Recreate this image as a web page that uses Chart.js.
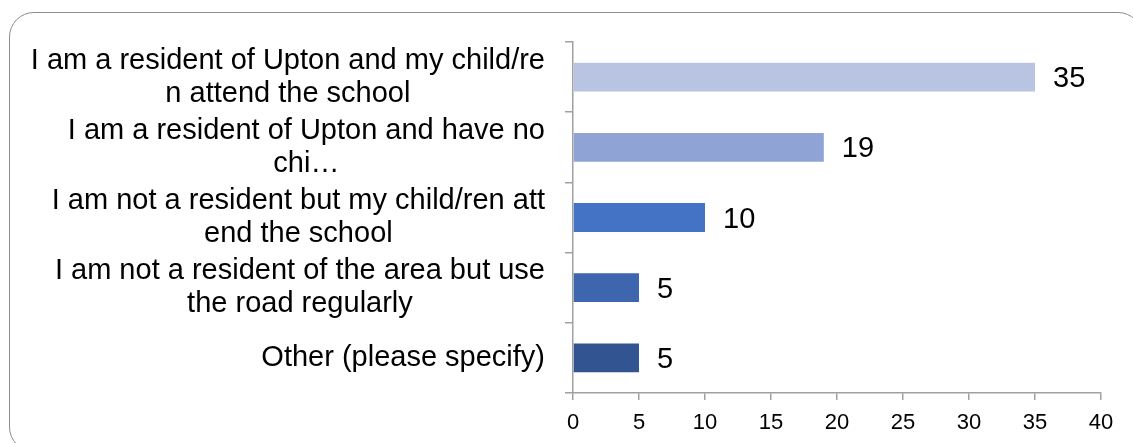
<!DOCTYPE html>
<html>
<head>
<meta charset="utf-8">
<script src="https://cdn.jsdelivr.net/npm/chart.js@4/dist/chart.umd.min.js"></script>
<style>
    html, body { margin: 0; padding: 0; background: #fff; }
    body { width: 1133px; height: 443px; position: relative; overflow: hidden; }
    .frame {
        position: absolute; left: 9px; top: 12px;
        width: 1134px; height: 440px;
        border: 1.5px solid #8c8c8c; border-radius: 25px;
        box-sizing: border-box;
    }
    .chart-box { position: absolute; left: 0; top: 0; width: 1133px; height: 443px; }
</style>
</head>
<body>
<div class="frame"></div>
<div class="chart-box"><canvas id="chart"></canvas></div>
<script>
// survey answers, each label already split into the lines it is shown on
const categories = [
    ['I am a resident of Upton and my child/re', 'n attend the school'],
    ['I am a resident of Upton and have no', 'chi…'],
    ['I am not a resident but my child/ren att', 'end the school'],
    ['I am not a resident of the area but use', 'the road regularly'],
    ['Other (please specify)']
];
const responses = [35, 19, 10, 5, 5];
const barColors = ['#b9c3e2', '#8fa3d4', '#4472c4', '#3d66ae', '#325491'];
const xTicks = [0, 5, 10, 15, 20, 25, 30, 35, 40];

const fontFamily = "'Liberation Sans', Arial, sans-serif";
const axisColor = '#a0a0a0';

// category names: each wrapped label is centred on its own widest line,
// and the block sits flush against the axis
const categoryLabels = {
    id: 'categoryLabels',
    afterDraw(chart) {
        const ctx = chart.ctx;
        const scale = chart.scales.y;
        const right = scale.right - 8 - 20;
        const lineGap = 33;
        ctx.save();
        ctx.font = '29px ' + fontFamily;
        ctx.fillStyle = '#000';
        ctx.textAlign = 'center';
        ctx.textBaseline = 'middle';
        categories.forEach((lines, i) => {
            const y = scale.getPixelForTick(i);
            const widest = Math.max(...lines.map(l => ctx.measureText(l).width));
            const cx = right - widest / 2;
            const top = y - (lines.length - 1) * lineGap / 2;
            lines.forEach((line, j) => ctx.fillText(line, cx, top + j * lineGap));
        });
        ctx.restore();
    }
};

// writes the value just to the right of each bar
const valueLabels = {
    id: 'valueLabels',
    afterDatasetsDraw(chart) {
        const ctx = chart.ctx;
        const meta = chart.getDatasetMeta(0);
        ctx.save();
        ctx.font = '29px ' + fontFamily;
        ctx.fillStyle = '#000';
        ctx.textAlign = 'left';
        ctx.textBaseline = 'middle';
        meta.data.forEach((bar, i) => {
            ctx.fillText(String(responses[i]), bar.x + 18, bar.y + 2);
        });
        ctx.restore();
    }
};

const config = {
    type: 'bar',
    data: {
        labels: categories,
        datasets: [{
            data: responses,
            backgroundColor: barColors,
            borderWidth: 0,
            barPercentage: 0.82,
            categoryPercentage: 0.5
        }]
    },
    options: {
        indexAxis: 'y',
        responsive: true,
        maintainAspectRatio: false,
        animation: false,
        devicePixelRatio: 1,
        layout: {
            padding: {top: 42, right: 32, left: 0, bottom: 0}
        },
        scales: {
            x: {
                min: xTicks[0],
                max: xTicks[xTicks.length - 1],
                afterBuildTicks: axis => {
                    axis.ticks = xTicks.map(v => ({value: v}));
                },
                afterFit: axis => { axis.height = 50; },
                border: {color: axisColor, width: 1.5},
                grid: {
                    drawOnChartArea: false,
                    color: axisColor,
                    lineWidth: 1.5,
                    tickLength: 7
                },
                ticks: {
                    color: '#000',
                    padding: 10,
                    maxRotation: 0,
                    font: {family: fontFamily, size: 22}
                }
            },
            y: {
                afterFit: axis => { axis.width = 573; },
                border: {color: axisColor, width: 1.5},
                grid: {
                    drawOnChartArea: false,
                    color: axisColor,
                    lineWidth: 1.5,
                    tickLength: 8
                },
                ticks: {display: false}
            }
        },
        plugins: {
            legend: {display: false},
            tooltip: {enabled: false}
        }
    },
    plugins: [valueLabels, categoryLabels]
};

new Chart(document.getElementById('chart'), config);
</script>
</body>
</html>
